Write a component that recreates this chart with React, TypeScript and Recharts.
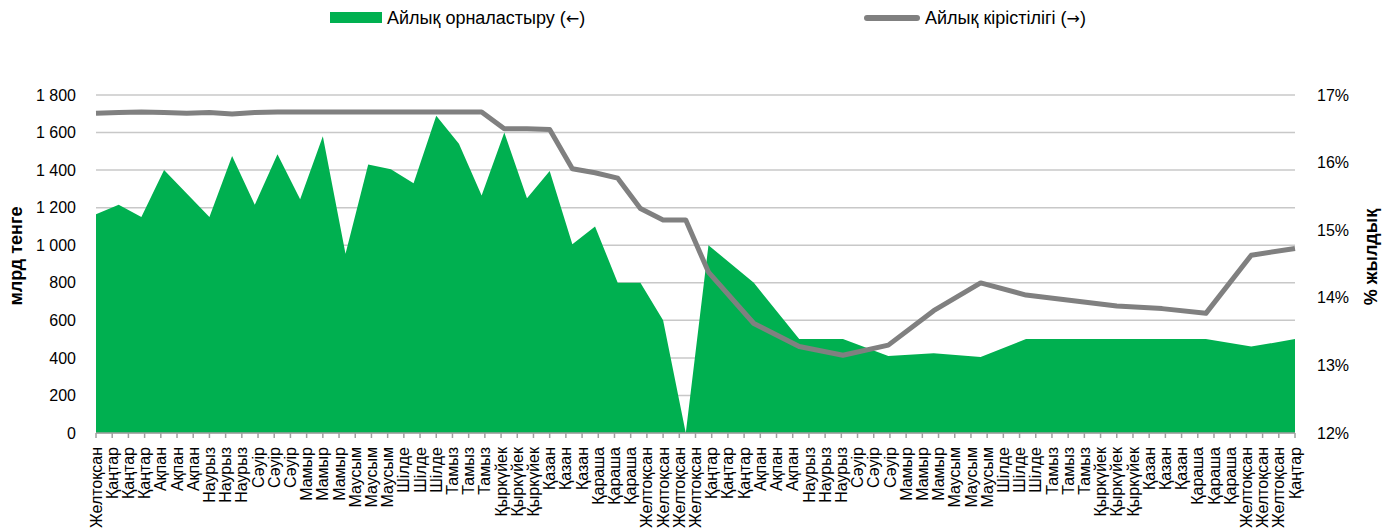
import {
  ComposedChart,
  Area,
  Line,
  XAxis,
  YAxis,
  CartesianGrid,
  Legend,
} from 'recharts'

const FONT = '"Liberation Sans", Arial, sans-serif'
const GREEN = '#00b050'
const GRAY = '#808080'

// days since the first tick (the date axis steps 10 days per tick)
const days = [
  0, 14, 28, 42, 56, 70, 84, 98, 112, 126, 140, 154, 168, 182, 196, 210, 224,
  238, 252, 266, 280, 294, 308, 322, 336, 350, 364, 378, 406, 434, 461, 489,
  517, 546, 574, 602, 630, 658, 685, 713, 740,
]

// monthly placement, bn tenge (left axis)
const placement = [
  1165, 1215, 1150, 1400, 1275, 1150, 1475, 1215, 1485, 1245, 1580, 955, 1430,
  1405, 1330, 1690, 1540, 1265, 1600, 1250, 1395, 1005, 1100, 800, 800, 600, 0,
  1000, 800, 500, 500, 410, 425, 405, 500, 500, 500, 500, 500, 460, 500,
]

// monthly yield, % (right axis)
const yieldPct = [
  16.73, 16.74, 16.75, 16.74, 16.73, 16.74, 16.72, 16.74, 16.75, 16.75, 16.75,
  16.75, 16.75, 16.75, 16.75, 16.75, 16.75, 16.75, 16.5, 16.5, 16.49, 15.91,
  15.85, 15.77, 15.32, 15.15, 15.15, 14.38, 13.62, 13.28, 13.15, 13.3, 13.81,
  14.22, 14.04, 13.96, 13.88, 13.84, 13.77, 14.63, 14.73,
]

const tickLabels = [
  'Желтоқсан',
  'Қаңтар', 'Қаңтар', 'Қаңтар',
  'Ақпан', 'Ақпан', 'Ақпан',
  'Наурыз', 'Наурыз', 'Наурыз',
  'Сәуір', 'Сәуір', 'Сәуір',
  'Мамыр', 'Мамыр', 'Мамыр',
  'Маусым', 'Маусым', 'Маусым',
  'Шілде', 'Шілде', 'Шілде',
  'Тамыз', 'Тамыз', 'Тамыз',
  'Қыркүйек', 'Қыркүйек', 'Қыркүйек',
  'Қазан', 'Қазан', 'Қазан',
  'Қараша', 'Қараша', 'Қараша',
  'Желтоқсан', 'Желтоқсан', 'Желтоқсан', 'Желтоқсан',
  'Қаңтар', 'Қаңтар', 'Қаңтар',
  'Ақпан', 'Ақпан', 'Ақпан',
  'Наурыз', 'Наурыз', 'Наурыз',
  'Сәуір', 'Сәуір', 'Сәуір',
  'Мамыр', 'Мамыр', 'Мамыр',
  'Маусым', 'Маусым', 'Маусым',
  'Шілде', 'Шілде', 'Шілде',
  'Тамыз', 'Тамыз', 'Тамыз',
  'Қыркүйек', 'Қыркүйек', 'Қыркүйек',
  'Қазан', 'Қазан', 'Қазан',
  'Қараша', 'Қараша', 'Қараша',
  'Желтоқсан', 'Желтоқсан', 'Желтоқсан',
  'Қаңтар',
]

const leftTicks = [0, 200, 400, 600, 800, 1000, 1200, 1400, 1600, 1800]
const rightTicks = [12, 13, 14, 15, 16, 17]

const data = days.map((day, i) => ({
  day,
  placement: placement[i],
  yield: yieldPct[i],
}))

const tickDays = tickLabels.map((_, i) => i * 10)

const fmtThousands = (v: number) =>
  v >= 1000 ? `${Math.floor(v / 1000)} ${String(v % 1000).padStart(3, '0')}` : String(v)

function XTick({ x, y, payload }: any) {
  const label = tickLabels[Math.round(payload.value / 10)]
  return (
    <text
      x={x}
      y={y}
      dy="0.35em"
      textAnchor="end"
      transform={`rotate(-90 ${x} ${y})`}
      fontSize={16}
      fontFamily={FONT}
      fill="#000"
    >
      {label}
    </text>
  )
}

function AxisTitle({ px, py, text }: any) {
  return (
    <text
      x={px}
      y={py}
      textAnchor="middle"
      dominantBaseline="central"
      transform={`rotate(-90 ${px} ${py})`}
      fontSize={18}
      fontWeight="bold"
      fontFamily={FONT}
      fill="#000"
    >
      {text}
    </text>
  )
}

const arrowStyle = { fontFamily: '"DejaVu Sans", sans-serif', fontSize: 16 }

function LegendBox() {
  return (
    <div
      style={{
        position: 'relative',
        width: 1382,
        height: 36,
        fontFamily: FONT,
        fontSize: 18,
        color: '#000',
      }}
    >
      <span
        style={{ position: 'absolute', left: 330, top: 12, width: 52, height: 11, background: GREEN }}
      />
      <span style={{ position: 'absolute', left: 387, top: 7, lineHeight: '22px', whiteSpace: 'nowrap' }}>
        Айлық орналастыру (<span style={arrowStyle}>←</span>)
      </span>
      <span
        style={{
          position: 'absolute',
          left: 864,
          top: 15,
          width: 56,
          height: 6,
          borderRadius: 3,
          background: GRAY,
        }}
      />
      <span style={{ position: 'absolute', left: 925, top: 7, lineHeight: '22px', whiteSpace: 'nowrap' }}>
        Айлық кірістілігі (<span style={arrowStyle}>→</span>)
      </span>
    </div>
  )
}

export default function App() {
  return (
    <div style={{ position: 'absolute', left: 0, top: 0, background: '#fff' }}>
      <ComposedChart
        width={1382}
        height={531}
        data={data}
        margin={{ top: 95, right: 0, left: 0, bottom: 0 }}
        style={{ fontFamily: FONT }}
      >
        <CartesianGrid
          yAxisId="left"
          vertical={false}
          stroke="#c8c8c8"
          strokeWidth={1.5}
        />
        <XAxis
          dataKey="day"
          type="number"
          domain={[0, 740]}
          ticks={tickDays}
          interval={0}
          height={98}
          tick={<XTick />}
          tickSize={5}
          tickMargin={9}
          stroke="#a0a0a0"
          strokeWidth={1.5}
        />
        <YAxis
          yAxisId="left"
          domain={[0, 1800]}
          ticks={leftTicks}
          width={96}
          axisLine={false}
          tickLine={false}
          tickSize={0}
          tickMargin={20}
          tickFormatter={fmtThousands}
          tick={{ fontSize: 16, fill: '#000' }}
          label={<AxisTitle px={16} py={256} text="млрд тенге" />}
        />
        <YAxis
          yAxisId="right"
          orientation="right"
          domain={[12, 17]}
          ticks={rightTicks}
          width={87}
          axisLine={false}
          tickLine={false}
          tickSize={0}
          tickMargin={22}
          tickFormatter={(v: number) => `${v}%`}
          tick={{ fontSize: 16, fill: '#000', textAnchor: 'start' }}
          label={<AxisTitle px={1371} py={257} text="% жылдық" />}
        />
        <Legend
          verticalAlign="middle"
          align="center"
          wrapperStyle={{ top: 0, left: 0, width: 1382, height: 36 }}
          content={<LegendBox />}
        />
        <Area
          yAxisId="left"
          type="linear"
          dataKey="placement"
          fill={GREEN}
          fillOpacity={1}
          stroke="none"
          isAnimationActive={false}
        />
        <Line
          yAxisId="right"
          type="linear"
          dataKey="yield"
          stroke={GRAY}
          strokeWidth={5}
          strokeLinejoin="round"
          dot={false}
          activeDot={false}
          isAnimationActive={false}
        />
      </ComposedChart>
    </div>
  )
}
